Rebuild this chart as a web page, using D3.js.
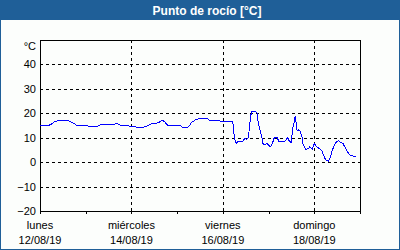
<!DOCTYPE html>
<html lang="es">
<head>
<meta charset="UTF-8">
<title>Punto de rocío</title>
<script src="https://d3js.org/d3.v7.min.js"></script>
<style>
  body { margin: 0; background: #fff; }
  svg { display: block; font-family: "Liberation Sans", Arial, sans-serif; }
  .grid line { stroke: #000; stroke-dasharray: 3,3; shape-rendering: crispEdges; }
  .tick text { font-size: 11px; fill: #000; }
</style>
</head>
<body>
<svg width="400" height="250"></svg>
<script>
// dew point readings, 12/08/19 - 18/08/19
const times = [
  "12/08/19 00:00","12/08/19 05:00","12/08/19 06:00","12/08/19 08:00","12/08/19 11:00","12/08/19 15:00",
  "12/08/19 18:30","12/08/19 19:00","12/08/19 22:30","13/08/19 00:00","13/08/19 01:00","13/08/19 02:00",
  "13/08/19 04:00","13/08/19 05:00","13/08/19 06:30","13/08/19 08:00","13/08/19 09:00","13/08/19 15:00",
  "13/08/19 16:00","13/08/19 18:00","13/08/19 20:00","13/08/19 22:00","14/08/19 00:00","14/08/19 06:00",
  "14/08/19 08:00","14/08/19 10:00","14/08/19 11:00","14/08/19 13:00","14/08/19 15:00","14/08/19 16:00",
  "14/08/19 17:30","14/08/19 19:00","14/08/19 20:00","15/08/19 02:00","15/08/19 03:00","15/08/19 05:30",
  "15/08/19 06:30","15/08/19 07:30","15/08/19 10:00","15/08/19 12:00","15/08/19 15:30","15/08/19 17:00",
  "15/08/19 18:00","15/08/19 22:30","15/08/19 23:30","16/08/19 05:00","16/08/19 05:30","16/08/19 06:00",
  "16/08/19 07:00","16/08/19 08:00","16/08/19 09:00","16/08/19 10:30","16/08/19 11:30","16/08/19 12:30",
  "16/08/19 13:30","16/08/19 14:00","16/08/19 15:00","16/08/19 17:00","16/08/19 18:00","16/08/19 18:30",
  "16/08/19 19:30","16/08/19 20:30","16/08/19 21:00","16/08/19 22:00","16/08/19 23:00","17/08/19 00:00",
  "17/08/19 01:00","17/08/19 02:00","17/08/19 03:00","17/08/19 04:30","17/08/19 05:30","17/08/19 08:30",
  "17/08/19 10:00","17/08/19 11:00","17/08/19 12:00","17/08/19 12:30","17/08/19 13:30","17/08/19 14:00",
  "17/08/19 14:30","17/08/19 15:00","17/08/19 15:30","17/08/19 16:30","17/08/19 17:30","17/08/19 18:00",
  "17/08/19 19:30","17/08/19 21:00","17/08/19 21:30","17/08/19 23:00","18/08/19 00:00","18/08/19 01:00",
  "18/08/19 02:30","18/08/19 04:00","18/08/19 04:30","18/08/19 06:00","18/08/19 07:30","18/08/19 08:30",
  "18/08/19 09:30","18/08/19 11:00","18/08/19 12:30","18/08/19 14:00","18/08/19 15:00","18/08/19 16:30",
  "18/08/19 18:00","18/08/19 19:00","18/08/19 22:00"
];
const dewPoint = [
  15.2, 15.2, 15.6, 16.8, 16.9, 16.9,
  15.5, 15.2, 15.2, 14.9, 14.9, 14.5,
  14.8, 14.4, 14.8, 15.3, 15.5, 15.5,
  15.9, 15.2, 14.9, 14.9, 14.5, 14.2,
  14.8, 15.5, 15.9, 15.9, 16.5, 17.2,
  16.5, 15.1, 14.8, 14.8, 14.2, 14.2,
  14.9, 16.2, 17.5, 17.9, 17.9, 17.2,
  16.9, 16.9, 16.5, 16.5, 15.2, 10.2,
  7.7, 8.4, 8.6, 8.6, 9.7, 9.3,
  10.2, 15.2, 20.7, 20.7, 20.0, 16.5,
  13.1, 10.2, 7.7, 7.0, 7.7, 7.0,
  6.3, 7.7, 10.0, 10.0, 8.4, 8.4,
  10.0, 8.4, 8.1, 13.1, 16.5, 18.9,
  15.9, 12.8, 13.3, 12.8, 10.4, 7.7,
  5.2, 5.6, 6.3, 5.2, 7.7, 6.5,
  5.6, 4.6, 3.4, 0.9, 0.4, 2.0,
  5.0, 7.7, 8.8, 8.1, 7.7, 5.6,
  3.6, 2.6, 2.4
];
const yTicks = [-20, -10, 0, 10, 20, 30, 40];
const dayNames = ["lunes", "miércoles", "viernes", "domingo"];
const dayDates = ["12/08/19", "14/08/19", "16/08/19", "18/08/19"];
const title = "Punto de rocío [°C]";
const unit = "°C";

const parse = d3.timeParse("%d/%m/%y %H:%M");
const parseDay = d3.timeParse("%d/%m/%y");
const data = times.map((t, i) => ({ t: parse(t), v: dewPoint[i] }));
const labelDays = dayDates.map(parseDay);

const svg = d3.select("svg");
const W = 400, H = 250;
const blue = "#1f5f98";
const plot = { left: 40, top: 40, right: 360, bottom: 211 };

// panel + title bar
svg.append("rect").attr("x", 0.5).attr("y", 0.5).attr("width", W - 1).attr("height", H - 1)
  .attr("fill", "#fcfefc").attr("stroke", blue);
svg.append("rect").attr("x", 0).attr("y", 0).attr("width", W).attr("height", 20).attr("fill", blue);
svg.append("text").attr("x", W / 2 + 7).attr("y", 14.5).attr("text-anchor", "middle")
  .attr("fill", "#fff").attr("font-size", "12px").attr("font-weight", "bold").text(title);

const x = d3.scaleTime()
  .domain([parseDay("12/08/19"), parseDay("19/08/19")])
  .range([plot.left, plot.right]);
const y = d3.scaleLinear().domain([-20, 50]).range([plot.bottom, plot.top]);

// grid
svg.append("g").attr("class", "grid")
  .selectAll("line.h").data(yTicks.filter(d => d > -20)).join("line")
  .attr("x1", plot.left).attr("x2", plot.right)
  .attr("y1", d => Math.round(y(d)) + 0.5).attr("y2", d => Math.round(y(d)) + 0.5);
svg.append("g").attr("class", "grid")
  .selectAll("line.v").data(labelDays.slice(1)).join("line")
  .attr("x1", d => Math.round(x(d)) + 0.5).attr("x2", d => Math.round(x(d)) + 0.5)
  .attr("y1", plot.top).attr("y2", plot.bottom);

// axes
const yAxis = svg.append("g").attr("transform", `translate(${plot.left},0)`)
  .call(d3.axisLeft(y).tickValues(yTicks).tickSize(0).tickPadding(4));
yAxis.select(".domain").remove();
yAxis.selectAll(".tick text").attr("font-family", null);

svg.append("text").attr("x", plot.left - 4).attr("y", y(50) + 10)
  .attr("text-anchor", "end").attr("font-size", "11px").text(unit);

const xAxis = svg.append("g").attr("transform", `translate(0,${plot.bottom})`)
  .call(d3.axisBottom(x).ticks(d3.timeDay.every(1)).tickSize(3).tickFormat(""));
xAxis.select(".domain").remove();
xAxis.selectAll(".tick line").attr("stroke", "#000").attr("shape-rendering", "crispEdges");

const lab = svg.append("g").selectAll("g").data(labelDays).join("g")
  .attr("transform", d => `translate(${x(d)},0)`);
lab.append("text").attr("y", 229).attr("text-anchor", "middle").attr("font-size", "11px")
  .text((d, i) => dayNames[i]);
lab.append("text").attr("y", 244).attr("text-anchor", "middle").attr("font-size", "11px")
  .text((d, i) => dayDates[i]);

// frame
svg.append("rect").attr("x", plot.left + 0.5).attr("y", plot.top + 0.5)
  .attr("width", plot.right - plot.left).attr("height", plot.bottom - plot.top)
  .attr("fill", "none").attr("stroke", "#000").attr("shape-rendering", "crispEdges");

// series
svg.append("path").datum(data)
  .attr("fill", "none").attr("stroke", "#0000ff").attr("stroke-width", 1)
  .attr("shape-rendering", "crispEdges")
  .attr("d", d3.line().x(d => x(d.t)).y(d => y(d.v)));
</script>
</body>
</html>
